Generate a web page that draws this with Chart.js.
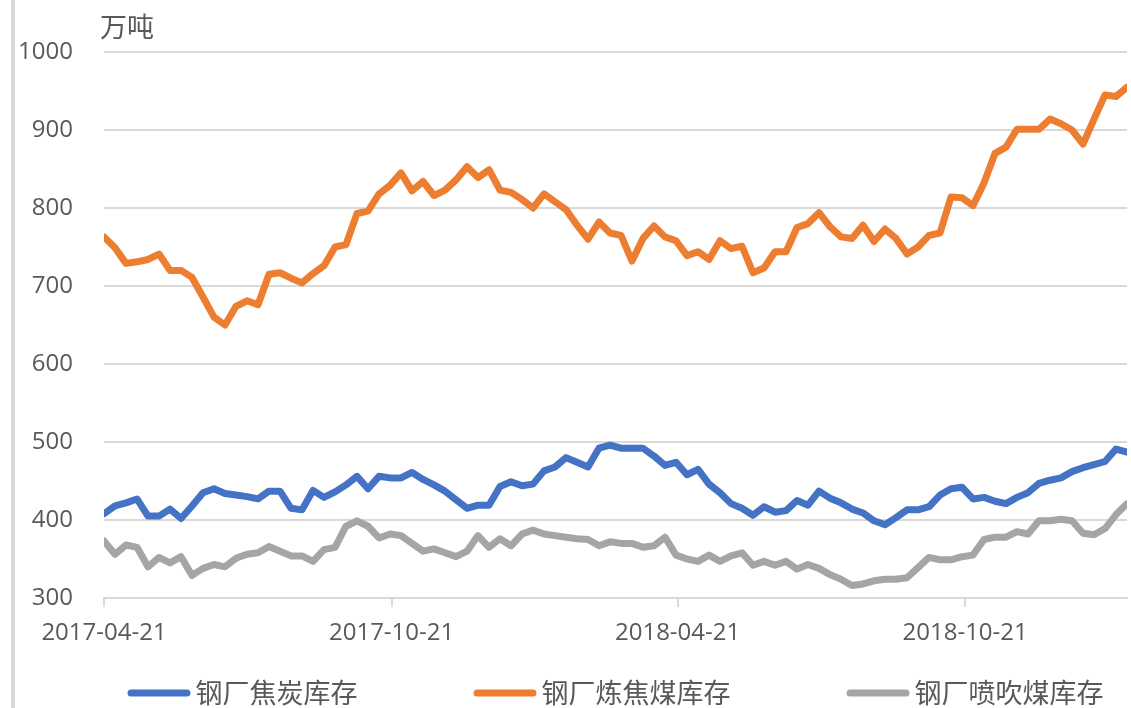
<!DOCTYPE html>
<html>
<head>
<meta charset="utf-8">
<script src="https://cdn.jsdelivr.net/npm/chart.js@4"></script>
<style>
  html, body { margin: 0; padding: 0; background: #ffffff; }
  #wrap { position: relative; width: 1131px; height: 708px; }
</style>
</head>
<body>
<div id="wrap"><canvas id="stock"></canvas></div>
<script>
// weekly steel-mill coal & coke inventories, 万吨
const startDate = "2017-04-21";
const weekCount = 94;
const tickDates = ["2017-04-21", "2017-10-21", "2018-04-21", "2018-10-21"];
const seriesNames = ["钢厂焦炭库存", "钢厂炼焦煤库存", "钢厂喷吹煤库存"];
const seriesColors = ["#4472C4", "#ED7D31", "#A5A5A5"];
const unitLabel = "万吨";

const cokeStock = [
  408, 418, 422, 427, 405, 405, 414, 402, 418, 435,
  440, 434, 432, 430, 427, 437, 437, 415, 413, 438,
  429, 436, 445, 456, 440, 456, 454, 454, 461, 452,
  445, 437, 426, 415, 419, 419, 443, 449, 444, 446,
  463, 468, 480, 474, 468, 492, 496, 492, 492, 492,
  482, 470, 474, 458, 465, 446, 435, 421, 415, 406,
  417, 410, 412, 425, 419, 437, 428, 422, 414, 409,
  399, 394, 403, 413, 413, 417, 432, 440, 442, 427,
  429, 424, 421, 429, 435, 447, 451, 454, 462, 467,
  471, 475, 491, 487
];

const cokingCoalStock = [
  763, 749, 729, 731, 734, 741, 720, 720, 711, 686,
  660, 650, 674, 681, 676, 715, 717, 710, 704, 716,
  726, 750, 753, 793, 796, 818, 829, 845, 822, 834,
  816, 823, 836, 853, 839, 849, 823, 820, 811, 800,
  818, 808, 798, 778, 760, 782, 768, 765, 732, 761,
  777, 763, 758, 739, 744, 734, 758, 748, 751, 717,
  723, 744, 744, 775, 780, 794, 776, 763, 761, 778,
  757, 773, 761, 741, 750, 765, 768, 814, 813, 803,
  832, 870, 878, 901, 901, 901, 914, 908, 900, 882,
  914, 945, 943, 955
];

const pciCoalStock = [
  373, 356, 368, 365, 340, 352, 345, 353, 329, 338,
  343, 340, 351, 356, 358, 366, 360, 354, 354, 347,
  362, 365, 392, 399, 392, 377, 382, 380, 370, 360,
  363, 358, 353, 360, 380, 365, 376, 367, 382, 387,
  382, 380, 378, 376, 375, 367, 372, 370, 370, 365,
  367, 378, 355, 350, 347, 355, 347, 354, 358, 342,
  347, 342, 347, 337, 343, 338, 330, 324, 316, 318,
  322, 324, 324, 326, 339, 352, 349, 349, 353, 355,
  375, 378, 378, 385, 382, 399, 399, 401, 399, 383,
  381, 389, 407, 421
];

const DAY = 86400000;
const t0 = Date.parse(startDate);
const dayOf = (s) => Math.round((Date.parse(s) - t0) / DAY);
const dateOf = (d) => new Date(t0 + d * DAY).toISOString().slice(0, 10);

// one reading every Friday
const weekDays = [];
for (let i = 0; i < weekCount; i++) weekDays.push(i * 7);

const toPoints = (values) => values.map((v, i) => ({ x: weekDays[i], y: v }));

const textColor = "#595959";
const gridColor = "#d9d9d9";
const fontFamily = '"Open Sans", "Noto Sans CJK SC", sans-serif';

Chart.defaults.font.family = fontFamily;
Chart.defaults.color = textColor;

// frame bar, unit label and the legend row under the axis
const decorations = {
  id: "decorations",
  beforeDraw(chart) {
    const { ctx } = chart;
    ctx.save();
    ctx.fillStyle = gridColor;
    ctx.fillRect(11, 0, 4, chart.height);
    ctx.restore();
  },
  afterDraw(chart) {
    const { ctx, chartArea } = chart;
    ctx.save();
    ctx.fillStyle = textColor;
    ctx.font = '27px "Noto Sans CJK SC"';
    ctx.textBaseline = "middle";
    ctx.textAlign = "left";
    ctx.fillText(unitLabel, chartArea.left - 4, 27);

    const sampleW = 63, textGap = 5, itemGap = 116, y = 693;
    const items = chart.data.datasets.map((ds) => ({
      label: ds.label,
      color: ds.borderColor,
      w: sampleW + textGap + ctx.measureText(ds.label).width,
    }));
    const total = items.reduce((a, it) => a + it.w, 0) + itemGap * (items.length - 1);
    let x = (chartArea.left + chartArea.right) / 2 - total / 2;
    items.forEach((it) => {
      ctx.strokeStyle = it.color;
      ctx.lineWidth = 7;
      ctx.lineCap = "round";
      ctx.beginPath();
      ctx.moveTo(x + 3.5, y);
      ctx.lineTo(x + sampleW - 3.5, y);
      ctx.stroke();
      ctx.fillText(it.label, x + sampleW + textGap, y);
      x += it.w + itemGap;
    });
    ctx.restore();
  },
};

const lineStyle = (color) => ({
  borderColor: color,
  backgroundColor: color,
  borderWidth: 7,
  borderJoinStyle: "round",
  borderCapStyle: "round",
  pointRadius: 0,
  pointHoverRadius: 0,
  tension: 0,
  fill: false,
});

const stockChart = new Chart(document.querySelector("#stock"), {
  type: "line",
  data: {
    datasets: [
      { label: seriesNames[0], data: toPoints(cokeStock), ...lineStyle(seriesColors[0]) },
      { label: seriesNames[1], data: toPoints(cokingCoalStock), ...lineStyle(seriesColors[1]) },
      { label: seriesNames[2], data: toPoints(pciCoalStock), ...lineStyle(seriesColors[2]) },
    ],
  },
  options: {
    responsive: true,
    maintainAspectRatio: false,
    animation: false,
    events: [],
    layout: { padding: { top: 52, right: 4, left: 0, bottom: 0 } },
    plugins: {
      legend: { display: false },
      tooltip: { enabled: false },
    },
    scales: {
      x: {
        type: "linear",
        min: weekDays[0],
        max: weekDays[weekDays.length - 1],
        afterBuildTicks: (scale) => {
          scale.ticks = tickDates.map((d) => ({ value: dayOf(d) }));
        },
        afterFit: (scale) => {
          scale.height = 110;
        },
        ticks: {
          callback: (value) => dateOf(value),
          font: { size: 24 },
          color: textColor,
          padding: 12,
          maxRotation: 0,
          autoSkip: false,
        },
        grid: {
          drawOnChartArea: false,
          drawTicks: true,
          tickLength: 9,
          color: gridColor,
          lineWidth: 2,
        },
        border: { display: true, color: gridColor, width: 2 },
      },
      y: {
        min: 300,
        max: 1000,
        afterFit: (scale) => {
          scale.width = 104;
        },
        ticks: {
          stepSize: 100,
          callback: (value) => String(value),
          font: { size: 24 },
          color: textColor,
          padding: 31,
        },
        grid: { color: gridColor, lineWidth: 2, drawTicks: false },
        border: { display: false },
      },
    },
  },
  plugins: [decorations],
});
</script>
</body>
</html>
